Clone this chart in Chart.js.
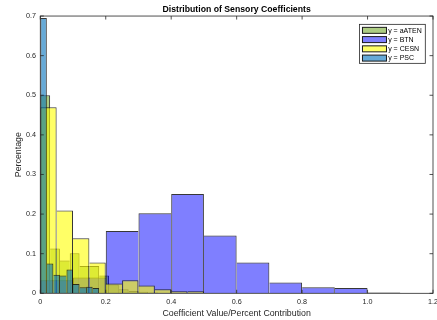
<!DOCTYPE html>
<html>
<head>
<meta charset="utf-8">
<script src="https://cdn.jsdelivr.net/npm/chart.js@4/dist/chart.umd.min.js"></script>
<style>
  html, body { margin: 0; padding: 0; background: #ffffff; }
  #c { display: block; }
</style>
</head>
<body>
<canvas id="c" width="437" height="320"></canvas>
<script>
// Histogram bin heights (fraction of coefficients per bin)
const aatenCounts = [0.50, 0.113, 0.083, 0.101, 0.069, 0.069, 0.045, 0.022, 0.010, 0.006, 0.004, 0.002];
const btnCounts   = [0.033, 0.040, 0.157, 0.202, 0.251, 0.146, 0.078, 0.027, 0.015, 0.0135, 0.002];
const cesnCounts  = [0.47, 0.209, 0.139, 0.078, 0.025, 0.033, 0.020, 0.010, 0.005, 0.005];
const pscCounts   = [0.695, 0.075, 0.047, 0.045, 0.060, 0.0235, 0.015, 0.0165, 0.0135];

// Bin widths of each histogram (bins start at 0)
const aatenBinWidth = 0.03;
const btnBinWidth   = 0.1;
const cesnBinWidth  = 0.05;
const pscBinWidth   = 0.02;

const seriesLabels = ['y = aATEN', 'y = BTN', 'y = CESN', 'y = PSC'];

const FONT = "'Liberation Sans', Arial, Helvetica, sans-serif";
const AXIS_COLOR = '#262626';
const EDGE_COLOR = 'rgba(20,20,20,0.85)';

// Each shared edge is stroked once, by the taller of the two neighbouring bars.
function edgeWidths(ctx) {
  const d = ctx.dataset.data;
  const i = ctx.dataIndex;
  const cur = d[i].y;
  const prev = i > 0 ? d[i - 1].y : -1;
  const next = i < d.length - 1 ? d[i + 1].y : -1;
  return { left: prev < cur ? 1 : 0, right: next <= cur ? 1 : 0, top: 1, bottom: 0 };
}

function histogram(label, counts, binWidth, color, order) {
  return {
    label: label,
    order: order,
    data: counts.map((h, i) => ({ x: (i + 0.5) * binWidth, y: h })),
    backgroundColor: color,
    borderColor: EDGE_COLOR,
    borderWidth: edgeWidths,
    borderSkipped: 'start',
    inflateAmount: 0,
    grouped: false,
    // bar width spans exactly one bin on the x scale
    barThickness: (ctx) => {
      const s = ctx.chart.scales.x;
      return Math.abs(s.getPixelForValue(binWidth) - s.getPixelForValue(0));
    }
  };
}

// Axes box with inward tick marks on all four sides
const axesBox = {
  id: 'axesBox',
  afterDraw(chart) {
    const { ctx, chartArea: a, scales } = chart;
    const len = 3.5;
    ctx.save();
    ctx.strokeStyle = AXIS_COLOR;
    ctx.lineWidth = 0.8;
    ctx.strokeRect(a.left, a.top, a.right - a.left, a.bottom - a.top);
    ctx.beginPath();
    scales.x.ticks.forEach((t, i) => {
      const px = scales.x.getPixelForTick(i);
      ctx.moveTo(px, a.bottom); ctx.lineTo(px, a.bottom - len);
      ctx.moveTo(px, a.top);    ctx.lineTo(px, a.top + len);
    });
    scales.y.ticks.forEach((t, i) => {
      const py = scales.y.getPixelForTick(i);
      ctx.moveTo(a.left, py);  ctx.lineTo(a.left + len, py);
      ctx.moveTo(a.right, py); ctx.lineTo(a.right - len, py);
    });
    ctx.stroke();
    ctx.restore();
  }
};

// Boxed legend in the upper right corner of the axes
const boxedLegend = {
  id: 'boxedLegend',
  afterDraw(chart) {
    const { ctx, chartArea: a } = chart;
    const datasets = chart.data.datasets;
    const fontSize = 7;
    const rowPitch = 9.25;
    const swW = 24, swH = 6;
    ctx.save();
    ctx.font = fontSize + 'px ' + FONT;
    const textW = Math.max(...datasets.map(d => ctx.measureText(d.label).width));
    const padL = 3, gap = 1.7, padR = 3.6;
    const boxW = padL + swW + gap + textW + padR;
    const boxH = 6 + rowPitch * (datasets.length - 1) + 5.25;
    const boxRight = a.right - 7.7;
    const boxTop = a.top + 8.3;
    const boxLeft = boxRight - boxW;
    ctx.fillStyle = '#ffffff';
    ctx.fillRect(boxLeft, boxTop, boxW, boxH);
    ctx.strokeStyle = AXIS_COLOR;
    ctx.lineWidth = 0.8;
    ctx.strokeRect(boxLeft, boxTop, boxW, boxH);
    datasets.forEach((d, i) => {
      const cy = boxTop + 6 + i * rowPitch;
      const sx = boxLeft + padL;
      ctx.fillStyle = d.backgroundColor;
      ctx.fillRect(sx, cy - swH / 2, swW, swH);
      ctx.strokeStyle = '#1a1a1a';
      ctx.lineWidth = 1;
      ctx.strokeRect(sx, cy - swH / 2, swW, swH);
      ctx.fillStyle = '#000000';
      ctx.textBaseline = 'middle';
      ctx.textAlign = 'left';
      ctx.fillText(d.label, sx + swW + gap, cy + 0.3);
    });
    ctx.restore();
  }
};

new Chart(document.getElementById('c'), {
  type: 'bar',
  data: {
    datasets: [
      histogram(seriesLabels[0], aatenCounts, aatenBinWidth, 'rgba(119,172,48,0.6)', 4),
      histogram(seriesLabels[1], btnCounts,   btnBinWidth,   'rgba(0,0,255,0.5)',    3),
      histogram(seriesLabels[2], cesnCounts,  cesnBinWidth,  'rgba(255,255,0,0.6)',  2),
      histogram(seriesLabels[3], pscCounts,   pscBinWidth,   'rgba(0,114,189,0.6)',  1)
    ]
  },
  options: {
    responsive: false,
    devicePixelRatio: 1,
    animation: false,
    events: [],
    layout: { padding: { left: 0, right: 4, top: 0, bottom: 0 } },
    plugins: {
      legend: { display: false },
      tooltip: { enabled: false },
      title: {
        display: true,
        text: 'Distribution of Sensory Coefficients',
        fullSize: false,
        color: '#000000',
        font: { family: FONT, size: 8.7, weight: 'bold', lineHeight: 1.2 },
        padding: { top: 4.3, bottom: 1.3 }
      }
    },
    scales: {
      x: {
        type: 'linear',
        min: 0,
        max: 1.2,
        offset: false,
        grid: { display: false, drawTicks: false, offset: false },
        border: { display: false },
        ticks: {
          stepSize: 0.2,
          padding: 4.1,
          maxRotation: 0,
          color: AXIS_COLOR,
          font: { family: FONT, size: 7.2, lineHeight: 1.2 }
        },
        title: {
          display: true,
          text: 'Coefficient Value/Percent Contribution',
          color: AXIS_COLOR,
          font: { family: FONT, size: 8.8, lineHeight: 1.2 },
          padding: { top: -2.1, bottom: 1.4 }
        },
        afterFit(scale) { scale.paddingRight = 0; scale.paddingLeft = 0; }
      },
      y: {
        min: 0,
        max: 0.7,
        grid: { display: false, drawTicks: false },
        border: { display: false },
        ticks: {
          stepSize: 0.1,
          padding: 4.3,
          color: AXIS_COLOR,
          font: { family: FONT, size: 7.2, lineHeight: 1.2 }
        },
        title: {
          display: true,
          text: 'Percentage',
          color: AXIS_COLOR,
          font: { family: FONT, size: 8.8, lineHeight: 1.2 },
          padding: { top: 13.2, bottom: -2.06 }
        }
      }
    }
  },
  plugins: [axesBox, boxedLegend]
});
</script>
</body>
</html>
